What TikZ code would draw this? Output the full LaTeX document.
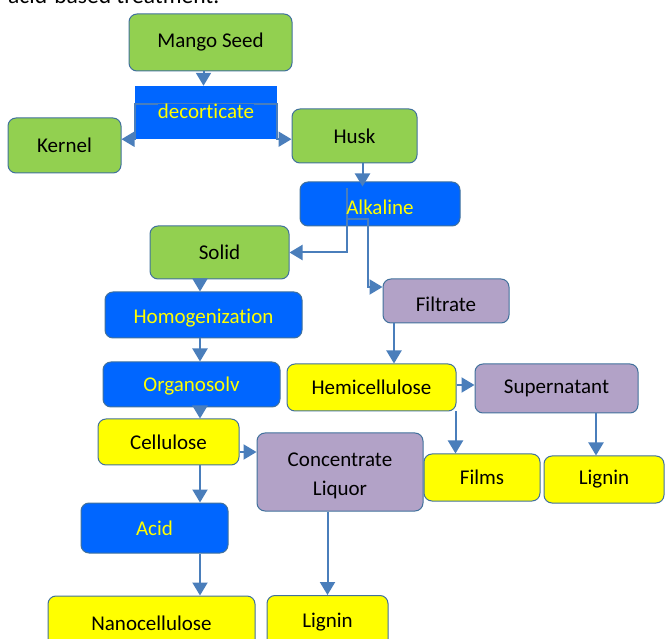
\documentclass[tikz,border=0pt]{standalone}
\usepackage{fontspec}
\setmainfont[Ligatures={NoCommon}]{Carlito}
\usetikzlibrary{arrows.meta}

\definecolor{leaf}{HTML}{92D050}
\definecolor{step}{HTML}{0066FF}
\definecolor{lemon}{HTML}{FFFF00}
\definecolor{lilac}{HTML}{B2A2C7}
\definecolor{rim}{HTML}{41719C}
\definecolor{pipe}{HTML}{4A7EBB}

\begin{document}
\begin{tikzpicture}[x=1pt,y=-1pt,
  box/.style={draw=rim,line width=1pt,rounded corners=8pt,inner sep=0pt,
    font=\fontsize{21}{29}\selectfont},
  green/.style={box,fill=leaf},
  blue/.style={box,fill=step,text=lemon},
  yellow/.style={box,fill=lemon},
  purple/.style={box,fill=lilac},
  flow/.style={draw=pipe,line width=2pt,-{Triangle[length=13pt,width=15pt]}}]
\useasboundingbox (0,0) rectangle (665,639);
\clip (0,0) rectangle (665,639);
\node[anchor=base west,inner sep=0pt,font=\fontsize{23.5}{28}\selectfont] (intro) at (8,4) {acid-based treatment.};

\node[green,minimum width=163pt,minimum height=57pt] (seed) at (210.5,42.5) {Mango Seed};
\node[fill=step,inner sep=0pt,minimum width=142pt,minimum height=53pt] (dec) at (206,112.5) {};
\node[green,minimum width=113pt,minimum height=55pt] (kernel) at (64.5,145.5) {Kernel};
\node[green,minimum width=125pt,minimum height=54pt] (husk) at (354.5,136) {Husk};
\node[blue,minimum width=160pt,minimum height=44pt] (alk) at (380,204) {};
\node[green,minimum width=139pt,minimum height=53pt] (solid) at (219.5,252.5) {Solid};
\node[blue,minimum width=197pt,minimum height=46pt] (homog) at (203.5,315) {};
\node[blue,minimum width=177pt,minimum height=45pt] (organo) at (191.5,384.5) {};
\node[yellow,minimum width=141pt,minimum height=46pt] (cell) at (168.5,442) {Cellulose};
\node[purple,minimum width=166pt,minimum height=78pt,align=center] (conc) at (340,472) {};
\node[blue,minimum width=147pt,minimum height=50pt] (acid) at (154.5,528) {Acid};
\node[yellow,minimum width=207pt,minimum height=54pt] (nano) at (151.5,623) {Nanocellulose};
\node[yellow,minimum width=121pt,minimum height=54pt] (lig1) at (327.5,622.5) {Lignin};
\node[purple,minimum width=126pt,minimum height=44pt] (filt) at (446,301) {};
\node[yellow,minimum width=169pt,minimum height=47pt] (hemi) at (371.5,387.5) {Hemicellulose};
\node[purple,minimum width=163pt,minimum height=49pt] (super) at (556.5,388.5) {Supernatant};
\node[yellow,minimum width=116pt,minimum height=47pt] (films) at (482,477.5) {Films};
\node[yellow,minimum width=120pt,minimum height=47pt] (lig2) at (604,479.5) {Lignin};

% split points inside the step boxes
\coordinate (decA) at (206,104);
\coordinate (alkA) at (347,188);
\coordinate (alkB) at (347,219);
\coordinate (alkC) at (368,287);
\coordinate (col) at (200,0);

\draw[flow] ([xshift=-7pt]seed.south) -- ([xshift=-7pt]seed.south |- dec.north);
\draw[flow] (decA) -| (dec.south west) -- (kernel.east |- dec.south west);
\draw[flow] (decA) -| (dec.south east) -- (husk.west |- dec.south east);
\node[inner sep=0pt,fill=step,text=lemon,font=\fontsize{21}{29}\selectfont] (declabel) at (206,111) {decorticate};

\draw[flow] ([xshift=8pt]husk.south) -- ([xshift=8pt,yshift=-5pt]husk.south |- alk.north);
\draw[flow] (alkA) |- (solid.east);
\draw[flow] (alkB) -| (alkC) -- (filt.west |- alkC);
\node[text=lemon,font=\fontsize{21}{29}\selectfont] (alklabel) at (380,207) {Alkaline};
\node[text=lemon,font=\fontsize{21}{29}\selectfont] (homoglabel) at (203.5,318) {Homogenization};
\node[text=lemon,font=\fontsize{21}{29}\selectfont] (organolabel) at (191.5,386) {Organosolv};
\node[font=\fontsize{21}{29}\selectfont] (filtlabel) at (446,304) {Filtrate};
\node[align=center,font=\fontsize{21}{29}\selectfont] (conclabel) at (340,476) {Concentrate\\Liquor};

\foreach \a/\b in {solid/homog,homog/organo,organo/cell,cell/acid,acid/nano}
  \draw[flow] (\a.south -| col) -- (\b.north -| col);
\draw[flow] ([yshift=-10pt]cell.east) -- ([yshift=-10pt]cell.east -| conc.west);
\draw[flow] (conc.south -| lig1.north) -- (lig1.north);
\draw[flow] ([xshift=-52pt]filt.south) -- ([xshift=-52pt]filt.south |- hemi.north);
\draw[flow] ([yshift=2.5pt]hemi.east) -- ([yshift=2.5pt]hemi.east -| super.west);
\draw[flow] ([xshift=-1pt]hemi.south east) -- ([xshift=-1pt]hemi.south east |- films.north);
\draw[flow] ([xshift=-8pt]lig2.north |- super.south) -- ([xshift=-8pt]lig2.north);
\end{tikzpicture}
\end{document}
